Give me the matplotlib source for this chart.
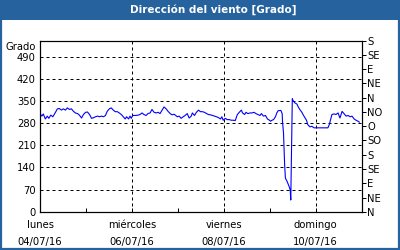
import matplotlib
matplotlib.use("Agg")
import matplotlib.pyplot as plt
from matplotlib.patches import Rectangle

# Hours since lunes 04/07/16 00:00
hours = [0.4, 1.0, 1.7, 2.8, 3.8, 4.6, 5.6, 6.7, 7.7, 9.1, 10.1, 11.2, 12.2, 13.3, 14.3, 15.4, 16.4, 17.5,
         18.5, 19.6, 20.6, 21.7, 22.7, 23.8, 24.8, 25.9, 26.9, 28.0, 29.0, 30.1, 31.1, 32.1, 33.2, 34.2,
         35.1, 36.2, 37.2, 38.3, 39.3, 40.4, 41.4, 42.5, 43.5, 44.5, 45.2, 46.3, 47.0, 47.7, 48.4, 49.8,
         51.2, 52.2, 53.3, 54.3, 55.4, 56.4, 57.5, 58.5, 59.6, 60.6, 61.7, 62.7, 63.8, 64.8, 65.9, 66.9,
         68.0, 69.0,
         70.1, 71.7, 72.7, 73.7, 74.8, 75.8, 76.9, 77.9, 79.0, 79.6, 80.7, 81.7, 82.8, 83.8, 84.9, 85.9,
         87.0, 88.0, 89.1, 90.1, 91.2, 92.2, 93.3, 94.3, 95.0, 95.7, 96.8, 97.8, 98.9, 99.9, 101.0, 102.0,
         103.1, 104.1, 105.2,
         105.8, 106.9, 107.6, 108.6, 109.7, 110.7, 111.8, 112.8, 113.9, 114.9, 115.7, 116.7, 117.8, 118.8,
         119.9, 120.5, 121.2, 122.0, 123.0, 123.7, 124.4, 125.8, 126.5,
         126.7, 127.2, 127.5, 127.8, 128.2, 128.9, 129.6, 130.3, 130.7, 131.0, 131.8, 132.1, 133.1, 134.2,
         135.0,
         135.7, 136.8, 137.4, 138.5, 139.2, 139.9, 141.0, 142.0, 143.1, 150.4, 151.1, 151.9, 152.5, 153.6,
         154.6, 155.7, 156.7, 157.8, 158.8, 159.9, 160.9, 162.0, 163.0, 164.1, 165.1, 166.1, 166.8]

direction = [307, 302, 309, 293, 302, 295, 305, 300, 310, 325, 326, 321, 325, 321, 328, 323, 325, 317,
             312, 310, 305, 296, 307, 314, 315, 307, 295, 297, 300, 302, 300, 302, 300, 304,
             317, 325, 328, 321, 316, 316, 312, 307, 300, 293, 300, 293, 302, 295, 304, 304,
             305, 307, 312, 307, 304, 310, 312, 323, 314, 312, 314, 310, 321, 331, 325, 317,
             310, 306,
             308, 300, 302, 295, 300, 304, 310, 296, 302, 312, 304, 314, 321, 316, 316, 314,
             310, 307, 306, 304, 302, 300, 297, 293, 300, 289, 295, 291, 291, 289, 289, 288,
             307, 314, 321,
             312, 307, 314, 310, 312, 312, 314, 310, 307, 304, 310, 302, 304, 293,
             289, 286, 289, 291, 300, 312, 319, 320, 310,
             283, 249, 201, 148, 106, 98, 88, 77, 69, 37, 357, 352, 344, 340,
             330,
             323, 314, 307, 296, 289, 275, 268, 270, 265, 265, 275, 293, 307, 309,
             307, 312, 296, 317, 310, 302, 304, 300, 302, 293, 289, 286, 283]

title = "Dirección del viento [Grado]"
y_label = "Grado"
left_ticks = [0, 70, 140, 210, 280, 350, 420, 490]
right_ticks = [0, 45, 90, 135, 180, 225, 270, 315, 360, 405, 450, 495, 540]
right_labels = ["N", "NE", "E", "SE", "S", "SO", "O", "NO", "N", "NE", "E", "SE", "S"]
x_major = [0, 48, 96, 144]
x_major_labels = ["lunes\n04/07/16", "miércoles\n06/07/16", "viernes\n08/07/16", "domingo\n10/07/16"]
x_minor = [24, 72, 120]

blue = "#26629e"
fig = plt.figure(figsize=(4, 2.5), dpi=100)
fig.patch.set_facecolor("white")

# frame and title bar
fig.patches.append(Rectangle((0, 0.92), 1, 0.08, transform=fig.transFigure,
                             facecolor=blue, edgecolor="none", zorder=0))
fig.patches.append(Rectangle((0.0025, 0.004), 0.995, 0.992, transform=fig.transFigure,
                             facecolor="none", edgecolor=blue, linewidth=1.6, zorder=1))
fig.text(0.533, 0.961, title, color="white", fontsize=7.5, fontweight="bold",
         ha="center", va="center")

ax = fig.add_axes([0.1, 0.153, 0.804, 0.684])
ax.plot(hours, direction, color="#0000ff", linewidth=0.8)
ax.set_xlim(0, 168)
ax.set_ylim(0, 540)

ax.set_yticks(left_ticks)
ax.set_yticklabels([str(v) for v in left_ticks], fontsize=7.2)
ax.tick_params(axis="y", length=0, pad=3)

ax.set_xticks(x_major)
ax.set_xticklabels(x_major_labels, fontsize=7.2, linespacing=1.9)
ax.set_xticks(x_minor, minor=True)
ax.tick_params(axis="x", which="both", direction="in", length=3, pad=6, color="black", width=0.72)

for v in left_ticks[1:]:
    ax.axhline(v, color="black", linewidth=0.72, linestyle=(0, (3, 3)), zorder=1)
for v in x_major[1:]:
    ax.axvline(v, color="black", linewidth=0.72, linestyle=(0, (3, 3)), zorder=1)

for s in ax.spines.values():
    s.set_color("black")
    s.set_linewidth(0.8)

ax2 = ax.twinx()
ax2.set_ylim(0, 540)
ax2.set_yticks(right_ticks)
ax2.set_yticklabels(right_labels, fontsize=7.2)
ax2.tick_params(axis="y", direction="out", length=3, pad=1, width=0.72)
for s in ax2.spines.values():
    s.set_linewidth(0.8)

fig.text(0.09, 0.814, y_label, fontsize=7.2, ha="right", va="center")

fig.savefig("out.png", dpi=100, facecolor="white")
